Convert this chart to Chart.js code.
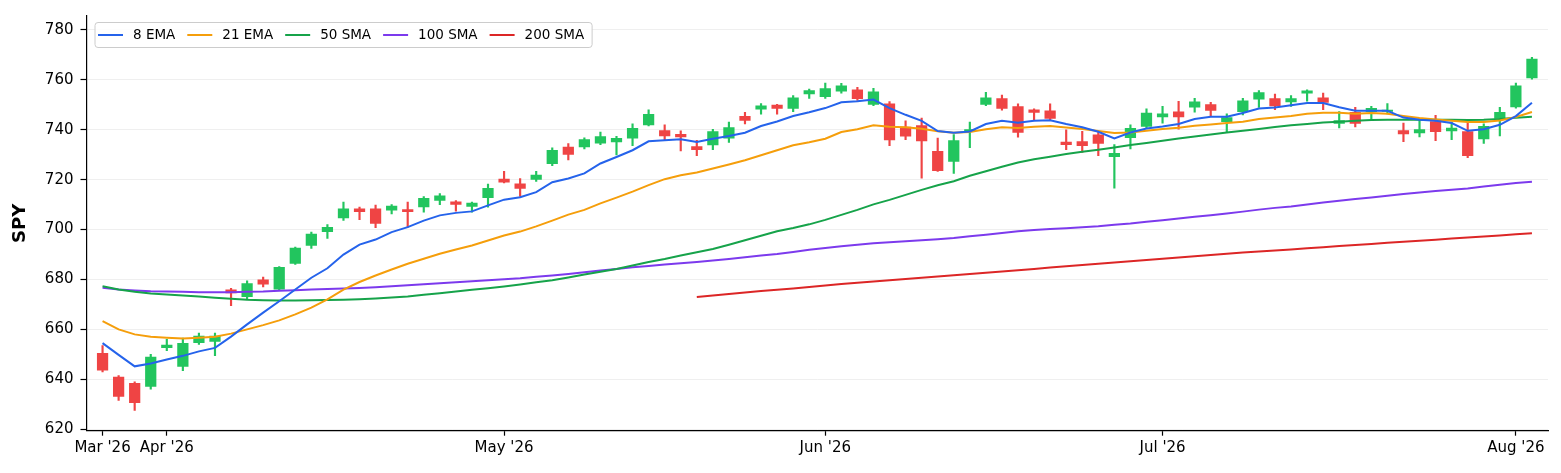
<!DOCTYPE html>
<html>
<head>
<meta charset="utf-8">
<title>SPY</title>
<script src="https://cdn.jsdelivr.net/npm/chart.js@4.4.1/dist/chart.umd.min.js"></script>
<style>
  html, body { margin: 0; padding: 0; background: #fff; }
  #wrap { width: 1561px; height: 473px; position: relative; }
</style>
</head>
<body>
<div id="wrap"><canvas id="spyChart"></canvas></div>
<script>
// trading days shown on the chart
const dates = [
  '2026-03-26', '2026-03-27', '2026-03-30', '2026-03-31',
  '2026-04-01', '2026-04-02', '2026-04-06', '2026-04-07', '2026-04-08', '2026-04-09', '2026-04-10',
  '2026-04-13', '2026-04-14', '2026-04-15', '2026-04-16', '2026-04-17',
  '2026-04-20', '2026-04-21', '2026-04-22', '2026-04-23', '2026-04-24',
  '2026-04-27', '2026-04-28', '2026-04-29', '2026-04-30',
  '2026-05-01', '2026-05-04', '2026-05-05', '2026-05-06', '2026-05-07', '2026-05-08',
  '2026-05-11', '2026-05-12', '2026-05-13', '2026-05-14', '2026-05-15',
  '2026-05-18', '2026-05-19', '2026-05-20', '2026-05-21', '2026-05-22',
  '2026-05-26', '2026-05-27', '2026-05-28', '2026-05-29',
  '2026-06-01', '2026-06-02', '2026-06-03', '2026-06-04', '2026-06-05',
  '2026-06-08', '2026-06-09', '2026-06-10', '2026-06-11', '2026-06-12',
  '2026-06-15', '2026-06-16', '2026-06-17', '2026-06-18',
  '2026-06-22', '2026-06-23', '2026-06-24', '2026-06-25', '2026-06-26',
  '2026-06-29', '2026-06-30',
  '2026-07-01', '2026-07-02', '2026-07-06', '2026-07-07', '2026-07-08', '2026-07-09', '2026-07-10',
  '2026-07-13', '2026-07-14', '2026-07-15', '2026-07-16', '2026-07-17',
  '2026-07-20', '2026-07-21', '2026-07-22', '2026-07-23', '2026-07-24',
  '2026-07-27', '2026-07-28', '2026-07-29', '2026-07-30', '2026-07-31',
  '2026-08-03', '2026-08-04'
];

const monthLabels = ["Mar '26", "Apr '26", "May '26", "Jun '26", "Jul '26", "Aug '26"];
const yTicks = [620, 640, 660, 680, 700, 720, 740, 760, 780];

// OHLC
const opens = [
  650.5, 641.0, 638.5, 637.0, 652.5, 645.0, 654.5, 655.0, 676.0, 673.0,
  680.0, 676.0, 686.3, 693.5, 699.0, 704.5, 708.5, 708.5, 707.7, 708.2,
  709.0, 711.6, 711.3, 709.2, 712.7, 720.4, 718.5, 720.0, 726.3, 733.2,
  733.0, 734.5, 735.0, 736.5, 741.8, 739.8, 738.3, 733.4, 733.8, 736.5,
  745.5, 748.1, 750.0, 748.4, 754.2, 753.1, 755.3, 756.1, 750.0, 750.5,
  741.2, 741.8, 731.5, 727.2, 739.1, 750.0, 752.6, 749.4, 748.1, 747.7,
  735.2, 735.4, 738.1, 729.1, 736.7, 741.2, 745.0, 747.3, 748.9, 750.2,
  743.1, 747.1, 752.1, 752.6, 751.0, 754.5, 752.9, 742.4, 747.1, 747.1,
  747.2, 739.8, 738.6, 743.4, 739.4, 739.4, 736.2, 744.4, 749.0, 760.7
];
const highs = [
  653.5, 641.5, 639.0, 650.0, 656.0, 656.5, 658.5, 658.5, 676.5, 679.5,
  681.0, 685.2, 693.0, 699.0, 702.0, 711.0, 709.0, 709.8, 710.0, 711.0,
  713.2, 714.4, 711.6, 711.0, 718.2, 723.3, 720.4, 723.3, 732.8, 734.5,
  736.8, 739.1, 737.4, 742.4, 748.0, 742.0, 739.6, 735.8, 740.2, 743.1,
  747.0, 750.5, 750.2, 753.7, 756.3, 758.7, 758.6, 757.0, 756.6, 751.3,
  743.6, 744.7, 736.7, 738.1, 743.1, 755.0, 753.9, 750.4, 748.4, 750.4,
  740.0, 739.4, 739.4, 734.1, 742.0, 748.4, 749.4, 751.4, 752.6, 751.0,
  746.4, 752.6, 755.7, 754.3, 753.7, 756.0, 754.7, 747.3, 749.0, 749.4,
  750.5, 742.7, 743.8, 745.8, 743.1, 743.1, 742.4, 749.0, 758.7, 769.0
];
const lows = [
  643.0, 631.5, 627.5, 636.0, 651.5, 643.5, 654.0, 649.5, 669.5, 672.0,
  677.0, 675.7, 686.0, 692.5, 696.5, 703.7, 704.0, 700.8, 706.3, 701.0,
  707.0, 710.0, 707.4, 707.0, 709.0, 718.7, 713.3, 719.3, 725.6, 727.9,
  732.3, 734.0, 729.9, 733.6, 741.5, 735.8, 731.5, 729.6, 732.0, 734.9,
  742.3, 746.3, 746.3, 747.3, 752.6, 752.6, 754.7, 751.8, 749.7, 733.6,
  736.0, 720.6, 723.3, 722.5, 732.8, 749.7, 747.9, 737.0, 743.8, 743.8,
  732.0, 730.9, 729.6, 716.6, 732.3, 740.7, 742.6, 740.2, 747.1, 745.5,
  739.1, 746.0, 749.0, 748.1, 749.4, 751.5, 748.1, 740.7, 741.1, 744.4,
  746.4, 735.2, 737.1, 735.6, 736.0, 728.8, 734.5, 737.5, 748.7, 760.3
];
const closes = [
  643.5, 633.0, 630.5, 649.0, 653.8, 654.5, 657.5, 657.5, 674.5, 678.5,
  678.0, 685.0, 692.7, 698.3, 701.0, 708.5, 707.0, 702.3, 709.6, 707.0,
  712.7, 713.7, 710.0, 710.8, 716.7, 718.9, 716.4, 722.0, 731.9, 730.0,
  736.2, 737.4, 736.7, 740.7, 746.3, 737.4, 737.0, 731.9, 739.4, 741.0,
  743.6, 749.7, 748.4, 752.9, 755.8, 756.6, 757.7, 752.3, 755.3, 735.8,
  737.3, 735.4, 723.5, 735.8, 740.2, 752.9, 748.4, 738.8, 746.8, 744.4,
  733.9, 733.5, 734.4, 730.7, 740.7, 746.8, 746.5, 745.0, 751.3, 747.6,
  745.0, 751.7, 755.0, 749.4, 752.6, 755.7, 750.8, 743.8, 742.4, 748.7,
  748.0, 738.2, 740.2, 739.1, 740.8, 729.5, 741.5, 747.1, 757.7, 768.5
];

// moving averages, also
const ema8 = [
  654.5, 649.8, 645.2, 646.3, 647.9, 649.4, 651.2, 652.6, 657.1, 662.0,
  666.7, 671.3, 676.0, 680.7, 684.5, 690.0, 694.0, 696.0, 699.0, 701.0,
  703.6, 705.7, 706.7, 707.3, 709.7, 712.0, 713.0, 715.0, 719.0, 720.5,
  722.5, 726.5, 729.1, 731.8, 735.4, 735.8, 736.2, 735.1, 736.4, 737.5,
  738.8, 741.5, 743.3, 745.5, 747.0, 748.7, 751.0, 751.4, 752.1, 748.7,
  746.0, 743.6, 739.5, 738.8, 739.3, 742.3, 743.6, 742.8, 743.6, 743.8,
  742.3, 741.0, 739.2, 736.5, 738.9, 740.5, 741.3, 742.3, 744.3, 745.2,
  745.2, 746.7, 748.5, 748.9, 749.8, 750.7, 750.7, 749.0, 747.6, 747.6,
  747.6, 744.9, 744.0, 743.6, 742.7, 739.6, 740.2, 742.0, 745.5, 750.8
];
const ema21 = [
  663.3, 660.0, 658.0, 657.1, 656.7, 656.4, 656.7, 657.1, 658.3, 660.0,
  661.7, 663.6, 666.0, 668.7, 672.0, 675.9, 679.0, 681.6, 684.0, 686.3,
  688.3, 690.3, 692.0, 693.6, 695.6, 697.6, 699.2, 701.3, 703.6, 706.0,
  707.9, 710.5, 712.8, 715.2, 717.8, 720.2, 721.8, 722.9, 724.5, 726.1,
  727.8, 729.8, 731.8, 733.8, 735.0, 736.4, 739.1, 740.2, 741.8, 741.2,
  741.0, 740.4, 739.4, 738.8, 739.1, 740.2, 741.0, 740.7, 741.2, 741.5,
  740.9, 740.3, 739.5, 738.7, 738.9, 739.6, 740.3, 740.8, 741.6, 742.1,
  742.7, 743.2, 744.3, 744.9, 745.5, 746.4, 746.8, 746.8, 746.4, 746.7,
  746.4, 745.5, 744.7, 744.1, 743.6, 743.1, 743.1, 743.7, 745.1, 747.1
];
const sma50 = [
  677.3, 676.0, 675.1, 674.4, 674.0, 673.6, 673.2, 672.7, 672.3, 671.9,
  671.7, 671.6, 671.6, 671.7, 671.8, 671.9, 672.1, 672.4, 672.8, 673.2,
  673.9, 674.5, 675.2, 675.9, 676.5, 677.2, 678.0, 678.9, 679.7, 680.8,
  682.0, 683.1, 684.2, 685.6, 687.0, 688.2, 689.6, 690.9, 692.2, 693.9,
  695.7, 697.5, 699.3, 700.6, 702.1, 703.9, 705.9, 707.9, 710.1, 711.9,
  713.9, 715.9, 717.8, 719.4, 721.6, 723.4, 725.2, 726.9, 728.2, 729.2,
  730.3, 731.2, 732.0, 732.9, 733.9, 734.7, 735.6, 736.5, 737.3, 738.1,
  738.9, 739.6, 740.3, 741.1, 741.8, 742.3, 742.9, 743.2, 743.6, 743.9,
  744.0, 744.0, 744.0, 744.0, 744.0, 743.9, 744.0, 744.3, 744.8, 745.2
];
const sma100 = [
  676.7, 676.0, 675.6, 675.3, 675.2, 675.1, 674.9, 674.9, 674.9, 675.1,
  675.2, 675.5, 675.7, 676.0, 676.2, 676.4, 676.6, 676.9, 677.3, 677.7,
  678.1, 678.5, 678.9, 679.3, 679.7, 680.1, 680.5, 681.1, 681.6, 682.2,
  682.9, 683.6, 684.2, 684.9, 685.4, 686.0, 686.5, 687.0, 687.6, 688.2,
  688.9, 689.6, 690.2, 691.0, 691.9, 692.6, 693.3, 693.9, 694.5, 694.9,
  695.3, 695.7, 696.1, 696.6, 697.3, 697.9, 698.6, 699.3, 699.8, 700.2,
  700.5, 700.9, 701.3, 701.9, 702.4, 703.1, 703.7, 704.4, 705.1, 705.7,
  706.4, 707.2, 708.0, 708.7, 709.3, 710.1, 710.9, 711.6, 712.3, 712.9,
  713.6, 714.3, 714.9, 715.5, 716.0, 716.5, 717.3, 718.0, 718.7, 719.2
];
const sma200 = [
  null, null, null, null, null, null, null, null, null, null,
  null, null, null, null, null, null, null, null, null, null,
  null, null, null, null, null, null, null, null, null, null,
  null, null, null, null, null, null, null, 673.0, 673.6, 674.2,
  674.8, 675.4, 675.9, 676.4, 677.0, 677.6, 678.2, 678.7, 679.2, 679.7,
  680.2, 680.7, 681.2, 681.7, 682.2, 682.7, 683.2, 683.7, 684.2, 684.8,
  685.3, 685.8, 686.3, 686.8, 687.3, 687.8, 688.3, 688.8, 689.3, 689.8,
  690.3, 690.8, 691.2, 691.6, 692.0, 692.5, 692.9, 693.4, 693.8, 694.2,
  694.7, 695.1, 695.5, 695.9, 696.4, 696.8, 697.2, 697.6, 698.1, 698.5
];

// first trading day of each month gets a tick
const monthStarts = dates.reduce((acc, d, i) => {
  if (i === 0 || d.slice(0, 7) !== dates[i - 1].slice(0, 7)) acc.push(i);
  return acc;
}, []);

const upColor = '#22c55e';
const downColor = '#ef4444';
const candleColors = closes.map((c, i) => c >= opens[i] ? upColor : downColor);

function maLine(label, values, color) {
  return {
    type: 'line',
    label: label,
    data: values.map((v, i) => ({ x: i, y: v })),
    borderColor: color,
    backgroundColor: color,
    borderWidth: 2,
    pointRadius: 0,
    tension: 0,
    spanGaps: false,
    order: 0
  };
}

// matplotlib-style legend box in the top-left corner of the plot
const legendBox = {
  id: 'legendBox',
  afterDraw(chart) {
    const { ctx, chartArea } = chart;
    const items = chart.data.datasets.filter(d => d.type === 'line');
    ctx.save();
    ctx.font = '13.5px "DejaVu Sans"';
    const left = chartArea.left + 8;
    const top = chartArea.top + 6;
    const h = 25;
    let w = 3;
    items.forEach(d => { w += 35 + ctx.measureText(d.label).width + 12; });
    w = w - 12 + 8;

    ctx.fillStyle = 'rgba(255,255,255,0.85)';
    ctx.strokeStyle = '#cccccc';
    ctx.lineWidth = 1;
    ctx.beginPath();
    ctx.roundRect(left + 0.5, top + 0.5, w, h, 3);
    ctx.fill();
    ctx.stroke();

    let x = left + 3.5;
    const cy = top + h / 2 + 0.5;
    items.forEach(d => {
      ctx.strokeStyle = d.borderColor;
      ctx.lineWidth = d.borderWidth;
      ctx.beginPath();
      ctx.moveTo(x, cy);
      ctx.lineTo(x + 25, cy);
      ctx.stroke();
      ctx.fillStyle = '#000';
      ctx.textBaseline = 'middle';
      ctx.fillText(d.label, x + 35, cy);
      x += 35 + ctx.measureText(d.label).width + 12;
    });
    ctx.restore();
  }
};

Chart.defaults.font.family = '"DejaVu Sans", sans-serif';
Chart.defaults.color = '#000';

const ctx = document.getElementById('spyChart');

new Chart(ctx, {
  type: 'bar',
  data: {
    datasets: [
      maLine('8 EMA', ema8, '#2563eb'),
      maLine('21 EMA', ema21, '#f59e0b'),
      maLine('50 SMA', sma50, '#16a34a'),
      maLine('100 SMA', sma100, '#7c3aed'),
      maLine('200 SMA', sma200, '#dc2626'),
      {
        label: 'body',
        data: opens.map((o, i) => ({ x: i, y: [o, closes[i]] })),
        backgroundColor: candleColors,
        borderWidth: 0,
        grouped: false,
        barPercentage: 0.7,
        categoryPercentage: 1,
        order: 1
      },
      {
        label: 'wick',
        data: lows.map((l, i) => ({ x: i, y: [l, highs[i]] })),
        backgroundColor: candleColors,
        borderWidth: 0,
        grouped: false,
        barThickness: 1.5,
        order: 2
      }
    ]
  },
  options: {
    responsive: true,
    maintainAspectRatio: false,
    animation: false,
    events: [],
    layout: {
      padding: { top: 13, right: 13, left: 0, bottom: 0 }
    },
    plugins: {
      legend: { display: false },
      tooltip: { enabled: false }
    },
    scales: {
      x: {
        type: 'linear',
        min: -1,
        max: 90,
        offset: false,
        afterBuildTicks: scale => {
          scale.ticks = monthStarts.map(v => ({ value: v }));
        },
        afterFit: scale => { scale.height = 42.3; },
        ticks: {
          callback: (value, index) => monthLabels[index],
          autoSkip: false,
          maxRotation: 0,
          color: '#000',
          font: { size: 15 },
          padding: 3
        },
        grid: {
          drawOnChartArea: false,
          drawTicks: true,
          tickLength: 5,
          tickColor: '#000',
          tickWidth: 1.2,
          offset: false
        },
        border: { color: '#000', width: 1.2 }
      },
      y: {
        min: 619.4,
        max: 785.6,
        afterBuildTicks: scale => {
          scale.ticks = yTicks.map(v => ({ value: v }));
        },
        afterFit: scale => { scale.width = 86.5; },
        ticks: {
          color: '#000',
          font: { size: 15 },
          padding: 7
        },
        grid: {
          color: '#ebebeb',
          lineWidth: 0.8,
          tickLength: 6,
          tickColor: '#000',
          tickWidth: 1.2
        },
        border: { color: '#000', width: 1.2 },
        title: {
          display: true,
          text: 'SPY',
          color: '#000',
          font: { size: 18, weight: 'bold' },
          padding: { top: 10, bottom: 0 }
        }
      }
    }
  },
  plugins: [legendBox]
});
</script>
</body>
</html>
